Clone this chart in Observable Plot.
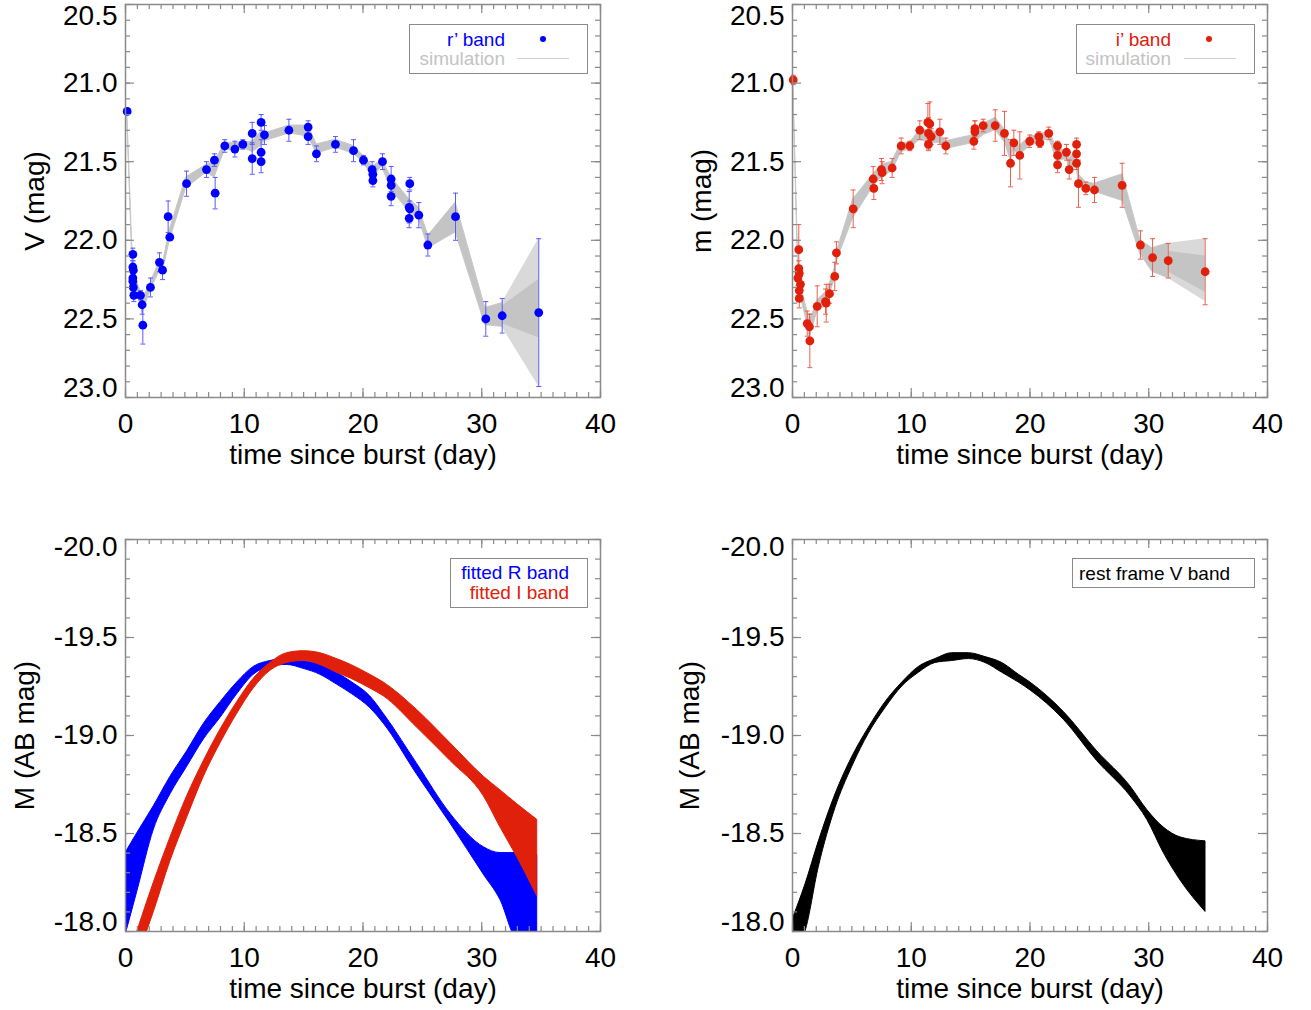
<!DOCTYPE html>
<html><head><meta charset="utf-8">
<script src="https://cdn.jsdelivr.net/npm/d3@7"></script>
<script src="https://cdn.jsdelivr.net/npm/@observablehq/plot@0.6"></script>
<style>
body{margin:0;background:#fff;font-family:"Liberation Sans",Arial,Helvetica,sans-serif;}
#wrap{position:relative;width:1311px;height:1010px;overflow:hidden;background:#fff;}
.panel{position:absolute;}
.box{position:absolute;border:1px solid #8a8a8a;background:#fff;box-sizing:border-box;}
.lt{position:absolute;white-space:nowrap;line-height:1;font-size:19px;transform:translate(-100%,-50%);}
.ll{position:absolute;white-space:nowrap;line-height:1;font-size:19px;transform:translate(0,-50%);}
.ldot{position:absolute;width:6px;height:6px;border-radius:50%;transform:translate(-50%,-50%);}
.lline{position:absolute;height:1px;background:#cfcfcf;}
</style></head><body><div id="wrap"></div>
<script>
// ---------- r' band observations (top-left) ----------
const rTime = [0.14,0.62,0.62,0.66,0.62,0.62,0.66,0.70,1.26,1.40,1.46,2.10,2.86,3.12,3.59,3.73,5.14,6.82,7.49,7.55,8.36,9.21,9.88,10.67,10.67,11.42,11.42,11.42,11.70,13.76,15.38,15.38,16.08,17.68,19.20,20.04,20.77,20.83,20.83,21.64,22.37,22.37,22.37,23.94,23.89,23.94,23.89,24.70,25.46,27.79,30.34,31.72,34.80];
const rMag  = [21.18,22.09,22.17,22.19,22.24,22.26,22.30,22.35,22.35,22.41,22.54,22.30,22.14,22.19,21.85,21.98,21.64,21.55,21.49,21.70,21.40,21.42,21.39,21.32,21.48,21.25,21.44,21.50,21.33,21.30,21.28,21.34,21.45,21.39,21.43,21.49,21.55,21.58,21.62,21.50,21.61,21.65,21.72,21.64,21.79,21.80,21.86,21.84,22.03,21.85,22.50,22.48,22.46];
const rErr  = [0.02,0.04,0.04,0.03,0.03,0.03,0.03,0.04,0.03,0.06,0.12,0.06,0.06,0.06,0.10,0.02,0.08,0.05,0.04,0.10,0.04,0.05,0.03,0.07,0.10,0.05,0.08,0.07,0.06,0.07,0.04,0.05,0.05,0.05,0.07,0.03,0.05,0.05,0.04,0.05,0.08,0.06,0.06,0.04,0.10,0.05,0.06,0.08,0.07,0.15,0.11,0.11,0.47];
// r' band simulation envelope
const rSimTime = [0.14,0.65,1.3,1.45,2.1,2.9,3.15,3.7,5.1,6.8,7.5,8.4,9.2,9.9,10.7,11.4,11.7,13.8,15.4,16.1,17.7,19.2,20.0,20.8,21.6,22.4,23.9,24.7,25.5,27.8,30.3,31.7,34.8];
const rSimLo   = [21.17,22.20,22.33,22.38,22.27,22.13,22.15,21.94,21.60,21.52,21.50,21.38,21.38,21.38,21.37,21.31,21.32,21.27,21.27,21.39,21.36,21.40,21.46,21.53,21.49,21.60,21.74,21.79,21.97,21.76,22.43,22.40,21.99];
const rSimHi   = [21.20,22.30,22.38,22.46,22.32,22.19,22.20,22.01,21.67,21.57,21.60,21.42,21.43,21.41,21.44,21.40,21.37,21.32,21.34,21.45,21.41,21.45,21.50,21.60,21.53,21.68,21.82,21.86,22.05,21.95,22.54,22.55,22.93];
// denser core of the final fan of r' simulations
const rCoreTime = [31.7,34.8];
const rCoreLo   = [22.42,22.25];
const rCoreHi   = [22.53,22.62];

// ---------- i' band observations (top-right) ----------
const iTime = [0.06,0.53,0.53,0.57,0.45,0.67,0.57,0.57,1.24,1.43,1.46,2.08,2.78,2.84,3.12,3.56,3.70,5.11,6.79,6.85,7.49,7.55,8.39,9.15,9.88,10.72,11.40,11.56,11.45,11.45,11.68,12.41,12.91,15.27,15.36,15.36,16.06,17.07,17.85,18.36,18.64,19.14,19.98,20.74,20.83,21.58,22.32,22.32,22.32,23.07,23.30,23.92,23.92,23.92,24.08,24.70,25.43,27.76,29.30,30.32,31.64,34.75];
const iMag  = [20.98,22.06,22.18,22.21,22.24,22.28,22.32,22.37,22.53,22.55,22.64,22.42,22.39,22.40,22.34,22.23,22.08,21.80,21.61,21.67,21.55,21.57,21.54,21.40,21.40,21.30,21.25,21.26,21.32,21.39,21.34,21.31,21.40,21.37,21.31,21.29,21.27,21.27,21.32,21.51,21.38,21.46,21.37,21.34,21.38,21.32,21.40,21.46,21.52,21.44,21.55,21.39,21.45,21.51,21.64,21.67,21.68,21.65,22.03,22.11,22.13,22.20];
const iErr  = [0.03,0.16,0.05,0.05,0.05,0.05,0.05,0.06,0.08,0.08,0.17,0.13,0.08,0.12,0.06,0.09,0.07,0.12,0.08,0.07,0.07,0.07,0.06,0.05,0.03,0.06,0.12,0.14,0.10,0.04,0.05,0.08,0.05,0.05,0.07,0.05,0.04,0.10,0.14,0.15,0.08,0.15,0.04,0.03,0.03,0.04,0.03,0.04,0.05,0.05,0.06,0.04,0.04,0.04,0.15,0.04,0.08,0.14,0.09,0.12,0.11,0.21];
// i' band simulation envelope
const iSimTime = [0.06,0.5,0.7,1.3,1.45,2.1,2.8,3.1,3.6,3.7,5.1,6.8,7.5,8.4,9.15,9.9,10.7,11.5,12.4,12.9,15.3,16.1,17.1,17.9,18.4,18.6,19.1,20.0,20.8,21.6,22.3,23.1,23.3,23.9,24.1,24.7,25.4,27.8,29.3,30.3,31.6,34.75];
const iSimLo   = [20.97,22.18,22.28,22.47,22.52,22.38,22.33,22.28,22.17,22.08,21.74,21.58,21.52,21.50,21.38,21.38,21.30,21.30,21.32,21.37,21.33,21.26,21.22,21.30,21.40,21.36,21.40,21.34,21.33,21.30,21.42,21.43,21.48,21.43,21.58,21.63,21.64,21.58,22.00,22.05,22.02,21.99];
const iSimHi   = [21.00,22.30,22.36,22.55,22.62,22.45,22.42,22.35,22.24,22.14,21.86,21.66,21.60,21.56,21.44,21.42,21.36,21.38,21.38,21.42,21.38,21.33,21.30,21.38,21.50,21.42,21.46,21.40,21.38,21.35,21.50,21.48,21.55,21.51,21.65,21.68,21.69,21.75,22.09,22.20,22.24,22.39];
const iCoreTime = [31.6,34.75];
const iCoreLo   = [22.07,22.10];
const iCoreHi   = [22.20,22.33];

// ---------- fitted R band (bottom-left, blue) ----------
const fRTime = [0.0,0.98,2.39,3.79,5.19,6.6,8.0,9.4,10.8,12.2,13.6,15.0,16.4,17.8,19.1,20.6,21.75,24.56,27.37,30.17,31.58,32.98,34.67];
const fRLo   = [-18.40,-18.50,-18.64,-18.79,-18.92,-19.06,-19.17,-19.27,-19.35,-19.38,-19.39,-19.38,-19.36,-19.32,-19.27,-19.20,-19.11,-18.855,-18.60,-18.43,-18.40,-18.40,-18.39];
const fRHi   = [-17.98,-18.20,-18.52,-18.70,-18.84,-18.98,-19.09,-19.21,-19.31,-19.35,-19.36,-19.34,-19.31,-19.26,-19.21,-19.14,-19.06,-18.80,-18.55,-18.29,-18.16,-17.95,-17.90];
// ---------- fitted I band (bottom-left, red) ----------
const fITime = [1.0,1.82,2.39,3.79,5.19,6.6,8.0,9.4,10.8,12.2,13.6,15.0,16.4,17.8,19.0,20.6,21.75,24.56,27.37,30.17,31.58,32.98,34.67];
const fILo   = [-18.00,-18.15,-18.25,-18.48,-18.69,-18.87,-19.03,-19.17,-19.29,-19.37,-19.42,-19.43,-19.42,-19.39,-19.36,-19.31,-19.27,-19.13,-18.96,-18.79,-18.72,-18.65,-18.57];
const fIHi   = [-17.85,-18.00,-18.10,-18.36,-18.58,-18.79,-18.96,-19.11,-19.24,-19.33,-19.37,-19.38,-19.36,-19.32,-19.29,-19.24,-19.20,-19.04,-18.87,-18.69,-18.53,-18.38,-18.18];
// ---------- rest frame V band (bottom-right, black) ----------
const fVTime = [0.0,1.09,2.22,3.62,5.03,6.43,7.83,9.24,10.64,12.04,13.45,14.85,16.25,17.66,19.06,20.04,22.85,25.65,28.46,29.87,31.27,32.68,34.78];
const fVLo   = [-18.06,-18.24,-18.46,-18.70,-18.89,-19.04,-19.17,-19.27,-19.35,-19.39,-19.42,-19.42,-19.40,-19.37,-19.31,-19.27,-19.12,-18.92,-18.74,-18.62,-18.53,-18.48,-18.46];
const fVHi   = [-17.90,-18.00,-18.33,-18.63,-18.84,-19.01,-19.14,-19.25,-19.32,-19.37,-19.38,-19.39,-19.37,-19.32,-19.27,-19.23,-19.08,-18.87,-18.69,-18.57,-18.40,-18.26,-18.10];

// ---------- tick labels ----------
const xMajor = [0,10,20,30,40];
const topYMajor = [20.5,21.0,21.5,22.0,22.5,23.0];
const botYMajor = [-20.0,-19.5,-19.0,-18.5,-18.0];

// ---------- build tables ----------
const obs = (t,m,e) => t.map((d,i)=>({t:d, m:m[i], e:e[i]}));
const band = (t,lo,hi) => t.map((d,i)=>({t:d, lo:lo[i], hi:hi[i]}));
const rObs = obs(rTime,rMag,rErr), iObs = obs(iTime,iMag,iErr);
const rSim = band(rSimTime,rSimLo,rSimHi), iSim = band(iSimTime,iSimLo,iSimHi);
const rCore = band(rCoreTime,rCoreLo,rCoreHi), iCore = band(iCoreTime,iCoreLo,iCoreHi);
const fR = band(fRTime,fRLo,fRHi), fI = band(fITime,fILo,fIHi), fV = band(fVTime,fVLo,fVHi);

const xMinor = d3.range(0,41,1);
const topYMinor = d3.range(0,26).map(i=>+(20.5+i*0.1).toFixed(2));
const botYMinor = d3.range(0,21).map(i=>+(-20+i*0.1).toFixed(2));

const FONT = '"Liberation Sans", Arial, Helvetica, sans-serif';
const AXC = "#8a8a8a";
const capSymbol = {draw(ctx, size){const w=Math.sqrt(size/Math.PI); ctx.moveTo(-w,0); ctx.lineTo(w,0);}};

function panel({left, top, width, height, mr, mb, yDomain, yMajor, yMinor, yLabel, yLabelDx, extremeDy, marks}) {
  const ml = 125, mt = 4;
  const FW = width - ml - mr, FH = height - mt - mb;
  const fmt = d => d.toFixed(1);
  const mids = yMajor.slice(1,-1);
  const svg = Plot.plot({
    width, height, marginLeft: ml, marginRight: mr, marginTop: mt, marginBottom: mb,
    x: {domain: [0,40], axis: null},
    y: {domain: yDomain, axis: null},
    style: {fontFamily: FONT, fontSize: "28px", color: "#000", background: "transparent", overflow: "visible"},
    marks: [
      ...marks,
      Plot.frame({stroke: AXC, strokeWidth: 1.5}),
      // minor ticks on four sides
      Plot.tickX(xMinor, {x: d=>d, insetTop: FH-5, stroke: AXC, strokeWidth: 1.2}),
      Plot.tickX(xMinor, {x: d=>d, insetBottom: FH-5, stroke: AXC, strokeWidth: 1.2}),
      Plot.tickY(yMinor, {y: d=>d, insetRight: FW-5, stroke: AXC, strokeWidth: 1.2}),
      Plot.tickY(yMinor, {y: d=>d, insetLeft: FW-5, stroke: AXC, strokeWidth: 1.2}),
      // major ticks
      Plot.tickX(xMajor, {x: d=>d, insetTop: FH-9, stroke: AXC, strokeWidth: 1.2}),
      Plot.tickX(xMajor, {x: d=>d, insetBottom: FH-9, stroke: AXC, strokeWidth: 1.2}),
      Plot.tickY(yMajor, {y: d=>d, insetRight: FW-9, stroke: AXC, strokeWidth: 1.2}),
      Plot.tickY(yMajor, {y: d=>d, insetLeft: FW-9, stroke: AXC, strokeWidth: 1.2}),
      // tick labels
      Plot.text(xMajor, {x: d=>d, text: d=>String(d), frameAnchor: "bottom", dy: 27, lineAnchor: "middle", fontSize: 28, fill: "#000"}),
      Plot.text(mids, {y: d=>d, text: fmt, frameAnchor: "left", dx: -8, textAnchor: "end", lineAnchor: "middle", fontSize: 28, fill: "#000"}),
      Plot.text([yMajor[0]], {y: d=>d, text: fmt, frameAnchor: "left", dx: -8, dy: extremeDy[0], textAnchor: "end", lineAnchor: "middle", fontSize: 28, fill: "#000"}),
      Plot.text([yMajor[yMajor.length-1]], {y: d=>d, text: fmt, frameAnchor: "left", dx: -8, dy: extremeDy[1], textAnchor: "end", lineAnchor: "middle", fontSize: 28, fill: "#000"}),
      // axis titles
      Plot.text(["time since burst (day)"], {frameAnchor: "bottom", dy: 58, textAnchor: "middle", lineAnchor: "middle", fontSize: 28, fill: "#000"}),
      Plot.text([yLabel], {frameAnchor: "left", dx: yLabelDx, rotate: -90, textAnchor: "middle", lineAnchor: "middle", fontSize: 28, fill: "#000"})
    ]
  });
  svg.classList.add("panel");
  svg.style.left = left + "px";
  svg.style.top = top + "px";
  document.getElementById("wrap").appendChild(svg);
}

function obsMarks(data, sim, core, color, barColor) {
  return [
    Plot.areaY(sim.slice(-2), {x: "t", y1: "lo", y2: "hi", fill: "#d9d9d9", curve: "linear"}),
    Plot.areaY(core, {x: "t", y1: "lo", y2: "hi", fill: "#c4c4c4", curve: "linear"}),
    Plot.areaY(sim.slice(0, -1), {x: "t", y1: "lo", y2: "hi", fill: "#c4c4c4", stroke: "#c8c8c8", strokeWidth: 1, curve: "linear"}),
    Plot.ruleX(data, {x: "t", y1: d=>d.m-d.e, y2: d=>d.m+d.e, stroke: barColor, strokeWidth: 1}),
    Plot.dot(data, {x: "t", y: d=>d.m-d.e, symbol: capSymbol, r: 2.5, stroke: barColor, strokeWidth: 1, fill: "none"}),
    Plot.dot(data, {x: "t", y: d=>d.m+d.e, symbol: capSymbol, r: 2.5, stroke: barColor, strokeWidth: 1, fill: "none"}),
    Plot.dot(data, {x: "t", y: "m", r: 4.4, fill: color, stroke: "none"})
  ];
}

const BLUE = "#0000ff", RED = "#e0200a";

panel({left: 0, top: 0, width: 655, height: 470, mr: 55, mb: 73,
  yDomain: [23.0, 20.5], yMajor: topYMajor, yMinor: topYMinor, yLabel: "V (mag)", yLabelDx: -90, extremeDy: [12, -9],
  marks: obsMarks(rObs, rSim, rCore, BLUE, "#5a5aff")});

panel({left: 667, top: 0, width: 644, height: 470, mr: 44, mb: 73,
  yDomain: [23.0, 20.5], yMajor: topYMajor, yMinor: topYMinor, yLabel: "m (mag)", yLabelDx: -90, extremeDy: [12, -9],
  marks: obsMarks(iObs, iSim, iCore, RED, "#e8604e")});

panel({left: 0, top: 535, width: 655, height: 470, mr: 55, mb: 74,
  yDomain: [-18.0, -20.0], yMajor: botYMajor, yMinor: botYMinor, yLabel: "M (AB mag)", yLabelDx: -100, extremeDy: [8, -9],
  marks: [
    Plot.areaY(fR, {x: "t", y1: "lo", y2: "hi", fill: BLUE, stroke: BLUE, strokeWidth: 1, curve: "monotone-x", clip: true}),
    Plot.areaY(fI, {x: "t", y1: "lo", y2: "hi", fill: RED, stroke: RED, strokeWidth: 1, curve: "monotone-x", clip: true})
  ]});

panel({left: 667, top: 535, width: 644, height: 470, mr: 44, mb: 74,
  yDomain: [-18.0, -20.0], yMajor: botYMajor, yMinor: botYMinor, yLabel: "M (AB mag)", yLabelDx: -102, extremeDy: [8, -9],
  marks: [
    Plot.areaY(fV, {x: "t", y1: "lo", y2: "hi", fill: "#000", stroke: "#000", strokeWidth: 1, curve: "monotone-x", clip: true})
  ]});

// ---------- legends ----------
const wrap = document.getElementById("wrap");
function el(cls, css, text) {
  const e = document.createElement("div");
  e.className = cls;
  Object.assign(e.style, css);
  if (text) e.textContent = text;
  wrap.appendChild(e);
}
// top-left
el("box", {left: "409px", top: "24px", width: "179px", height: "50px"});
el("lt", {left: "505px", top: "38.5px", color: BLUE}, "r’ band");
el("lt", {left: "505px", top: "58px", color: "#c3c3c3"}, "simulation");
el("ldot", {left: "543px", top: "39px", background: BLUE});
el("lline", {left: "517px", top: "58px", width: "52px"});
// top-right
el("box", {left: "1076px", top: "24px", width: "179px", height: "50px"});
el("lt", {left: "1171px", top: "38.5px", color: RED}, "i’ band");
el("lt", {left: "1171px", top: "58px", color: "#c3c3c3"}, "simulation");
el("ldot", {left: "1209px", top: "39px", background: RED});
el("lline", {left: "1184px", top: "58px", width: "52px"});
// bottom-left
el("box", {left: "450px", top: "558px", width: "138px", height: "50px"});
el("lt", {left: "569px", top: "572px", color: BLUE}, "fitted R band");
el("lt", {left: "569px", top: "591.5px", color: RED}, "fitted I band");
// bottom-right
el("box", {left: "1072px", top: "558px", width: "183px", height: "30px"});
el("ll", {left: "1079px", top: "573px", color: "#000"}, "rest frame V band");
</script>
</body></html>
